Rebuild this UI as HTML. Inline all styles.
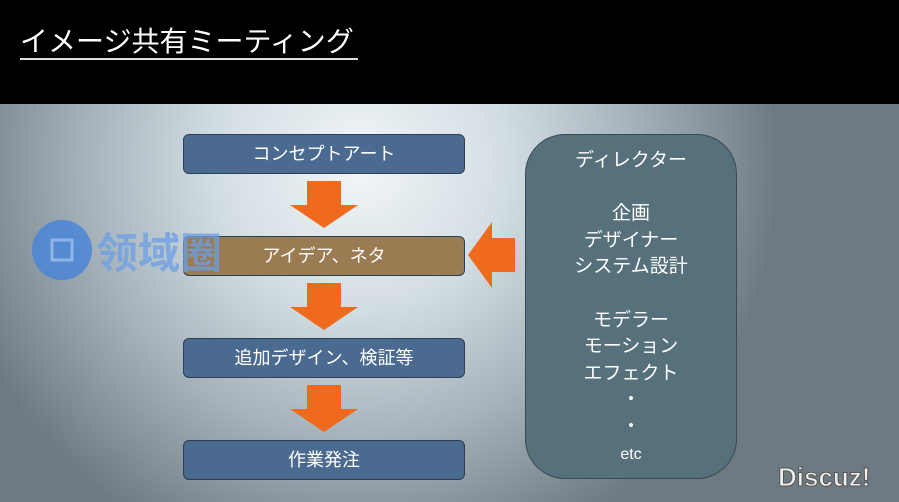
<!DOCTYPE html>
<html><head><meta charset="utf-8"><style>
body{margin:0;width:899px;height:502px;overflow:hidden;position:relative;font-family:"Liberation Sans","Noto Sans CJK JP",sans-serif;}
.top{position:absolute;left:0;top:0;width:899px;height:104px;background:#000;}
.title{position:absolute;left:20px;top:25px;color:#fff;font-size:28px;letter-spacing:0px;border-bottom:2px solid #ddd;line-height:33px;padding-right:4px;}
.bg{position:absolute;left:0;top:104px;width:899px;height:398px;background:radial-gradient(ellipse 420px 420px at 360px 60px,#f2f6f8 0%,#d2dde3 35%,#a6b3ba 65%,#6d7a81 100%);}
.box{position:absolute;left:183px;width:280px;height:38px;border:1.5px solid #2d3f52;border-radius:6px;background:#4b6a8f;color:#fff;font-size:18px;text-align:center;line-height:38px;}
.rbox{position:absolute;left:525px;top:134px;width:210px;height:343px;border:1.5px solid #3a4a55;border-radius:40px;background:#56707c;color:#fff;font-size:19px;text-align:center;line-height:26.6px;}
</style></head><body>
<div class="top"></div>
<div class="title">イメージ共有ミーティング</div>
<div class="bg"></div>
<div class="box" style="top:134px">コンセプトアート</div>
<div class="box" style="top:236px;background:#9a7b52">アイデア、ネタ</div>
<div class="box" style="top:338px">追加デザイン、検証等</div>
<div class="box" style="top:440px">作業発注</div>
<svg style="position:absolute;left:0;top:0" width="899" height="502">
<g fill="#f06a1e">
<polygon points="307,181 341,181 341,205 358,205 324,228 290,205 307,205"/>
<polygon points="307,283 341,283 341,307 358,307 324,330 290,307 307,307"/>
<polygon points="307,385 341,385 341,409 358,409 324,432 290,409 307,409"/>
<polygon points="515,238 492,238 492,222 468,255 492,288 492,272 515,272"/>
</g>
<circle cx="62" cy="250" r="30" fill="#4a86d8" opacity="0.85"/>
<rect x="52" y="240" width="20" height="20" fill="none" stroke="#8fb4e6" stroke-width="3"/>
<text x="96" y="268" font-size="42" font-weight="bold" fill="#6b9fe6" opacity="0.75" font-family="Noto Sans CJK SC, sans-serif">领域圈</text>
<text x="778" y="486" font-size="26" font-weight="bold" fill="#eee" stroke="#555" stroke-width="1" font-family="Liberation Sans, sans-serif">Discuz!</text>
</svg>
<div class="rbox"><div style="height:13px"></div>ディレクター<br><br>企画<br>デザイナー<br>システム設計<br><br>モデラー<br>モーション<br>エフェクト<br>・<br>・<br><span style="font-size:16px">etc</span></div>
</body></html>
